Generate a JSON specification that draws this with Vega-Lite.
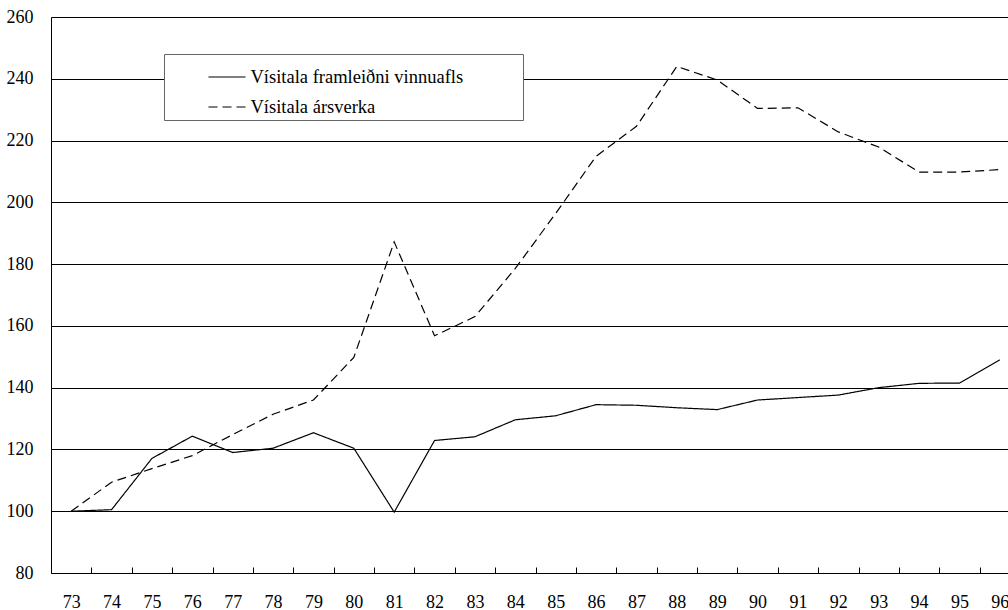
{
  "$schema": "https://vega.github.io/schema/vega-lite/v6.json",
  "width": 969,
  "height": 556,
  "autosize": {"type": "none"},
  "padding": {"left": 51, "top": 17, "right": 0, "bottom": 37},
  "background": "white",
  "config": {
    "view": {"stroke": null},
    "font": "Liberation Serif"
  },
  "data": {
    "values": [
      {"year": 73, "series": "Vísitala framleiðni vinnuafls", "value": 100},
      {"year": 74, "series": "Vísitala framleiðni vinnuafls", "value": 100.5},
      {"year": 75, "series": "Vísitala framleiðni vinnuafls", "value": 117.1},
      {"year": 76, "series": "Vísitala framleiðni vinnuafls", "value": 124.3},
      {"year": 77, "series": "Vísitala framleiðni vinnuafls", "value": 119.0},
      {"year": 78, "series": "Vísitala framleiðni vinnuafls", "value": 120.4},
      {"year": 79, "series": "Vísitala framleiðni vinnuafls", "value": 125.4},
      {"year": 80, "series": "Vísitala framleiðni vinnuafls", "value": 120.4},
      {"year": 81, "series": "Vísitala framleiðni vinnuafls", "value": 99.7},
      {"year": 82, "series": "Vísitala framleiðni vinnuafls", "value": 122.9},
      {"year": 83, "series": "Vísitala framleiðni vinnuafls", "value": 124.1},
      {"year": 84, "series": "Vísitala framleiðni vinnuafls", "value": 129.6},
      {"year": 85, "series": "Vísitala framleiðni vinnuafls", "value": 130.9},
      {"year": 86, "series": "Vísitala framleiðni vinnuafls", "value": 134.5},
      {"year": 87, "series": "Vísitala framleiðni vinnuafls", "value": 134.3},
      {"year": 88, "series": "Vísitala framleiðni vinnuafls", "value": 133.5},
      {"year": 89, "series": "Vísitala framleiðni vinnuafls", "value": 132.9},
      {"year": 90, "series": "Vísitala framleiðni vinnuafls", "value": 136.0},
      {"year": 91, "series": "Vísitala framleiðni vinnuafls", "value": 136.8},
      {"year": 92, "series": "Vísitala framleiðni vinnuafls", "value": 137.6},
      {"year": 93, "series": "Vísitala framleiðni vinnuafls", "value": 140.0},
      {"year": 94, "series": "Vísitala framleiðni vinnuafls", "value": 141.4},
      {"year": 95, "series": "Vísitala framleiðni vinnuafls", "value": 141.5},
      {"year": 96, "series": "Vísitala framleiðni vinnuafls", "value": 149.0},
      {"year": 73, "series": "Vísitala ársverka", "value": 100},
      {"year": 74, "series": "Vísitala ársverka", "value": 109.4},
      {"year": 75, "series": "Vísitala ársverka", "value": 113.8},
      {"year": 76, "series": "Vísitala ársverka", "value": 118.0},
      {"year": 77, "series": "Vísitala ársverka", "value": 124.8},
      {"year": 78, "series": "Vísitala ársverka", "value": 131.4},
      {"year": 79, "series": "Vísitala ársverka", "value": 136.0},
      {"year": 80, "series": "Vísitala ársverka", "value": 149.8},
      {"year": 81, "series": "Vísitala ársverka", "value": 187.2},
      {"year": 82, "series": "Vísitala ársverka", "value": 156.8},
      {"year": 83, "series": "Vísitala ársverka", "value": 163.0},
      {"year": 84, "series": "Vísitala ársverka", "value": 178.6},
      {"year": 85, "series": "Vísitala ársverka", "value": 196.4},
      {"year": 86, "series": "Vísitala ársverka", "value": 214.9},
      {"year": 87, "series": "Vísitala ársverka", "value": 224.6},
      {"year": 88, "series": "Vísitala ársverka", "value": 244.0},
      {"year": 89, "series": "Vísitala ársverka", "value": 239.6},
      {"year": 90, "series": "Vísitala ársverka", "value": 230.4},
      {"year": 91, "series": "Vísitala ársverka", "value": 230.6},
      {"year": 92, "series": "Vísitala ársverka", "value": 222.8},
      {"year": 93, "series": "Vísitala ársverka", "value": 217.9},
      {"year": 94, "series": "Vísitala ársverka", "value": 209.8},
      {"year": 95, "series": "Vísitala ársverka", "value": 209.8},
      {"year": 96, "series": "Vísitala ársverka", "value": 210.6}
    ]
  },
  "mark": {"type": "line", "strokeWidth": 1.2, "clip": false},
  "encoding": {
    "x": {
      "field": "year",
      "type": "ordinal",
      "bandPosition": 0.5,
      "scale": {"type": "band", "paddingInner": 0, "paddingOuter": 0},
      "axis": {
        "title": null,
        "tickBand": "extent",
        "tickSize": -6,
        "tickColor": "black",
        "tickWidth": 1,
        "domainColor": "black",
        "domainWidth": 1,
        "grid": false,
        "labelAngle": 0,
        "labelPadding": 26,
        "labelFont": "Liberation Serif",
        "labelFontSize": 18,
        "labelColor": "black"
      }
    },
    "y": {
      "field": "value",
      "type": "quantitative",
      "scale": {"domain": [80, 260], "nice": false, "zero": false},
      "axis": {
        "title": null,
        "values": [80, 100, 120, 140, 160, 180, 200, 220, 240, 260],
        "ticks": false,
        "grid": true,
        "gridColor": "black",
        "gridWidth": 1,
        "gridOpacity": 1,
        "domainColor": "black",
        "domainWidth": 1,
        "labelPadding": 18,
        "labelFont": "Liberation Serif",
        "labelFontSize": 18,
        "labelColor": "black"
      }
    },
    "color": {
      "field": "series",
      "type": "nominal",
      "scale": {"domain": ["Vísitala framleiðni vinnuafls", "Vísitala ársverka"], "range": ["black", "black"]},
      "legend": {
        "title": null,
        "orient": "none",
        "legendX": 113,
        "legendY": 37,
        "padding": 3.5,
        "fillColor": "white",
        "strokeColor": "#666666",
        "symbolType": "stroke",
        "symbolSize": 1369,
        "symbolStrokeWidth": 1.2,
        "symbolOffset": 40,
        "labelOffset": 4,
        "rowPadding": 1,
        "labelFont": "Liberation Serif",
        "labelFontSize": 18.5,
        "labelColor": "black",
        "labelLimit": 0,
        "labelExpr": "datum.value + '\u2800\u2800\u2800\u2800'"
      }
    },
    "strokeDash": {
      "field": "series",
      "type": "nominal",
      "scale": {"domain": ["Vísitala framleiðni vinnuafls", "Vísitala ársverka"], "range": [[1, 0], [9, 5]]},
      "legend": {
        "title": null,
        "orient": "none",
        "legendX": 113,
        "legendY": 37,
        "padding": 3.5,
        "fillColor": "white",
        "strokeColor": "#666666",
        "symbolType": "stroke",
        "symbolSize": 1369,
        "symbolStrokeWidth": 1.2,
        "symbolOffset": 40,
        "labelOffset": 4,
        "rowPadding": 1,
        "labelFont": "Liberation Serif",
        "labelFontSize": 18.5,
        "labelColor": "black",
        "labelLimit": 0,
        "labelExpr": "datum.value + '\u2800\u2800\u2800\u2800'"
      }
    }
  }
}
